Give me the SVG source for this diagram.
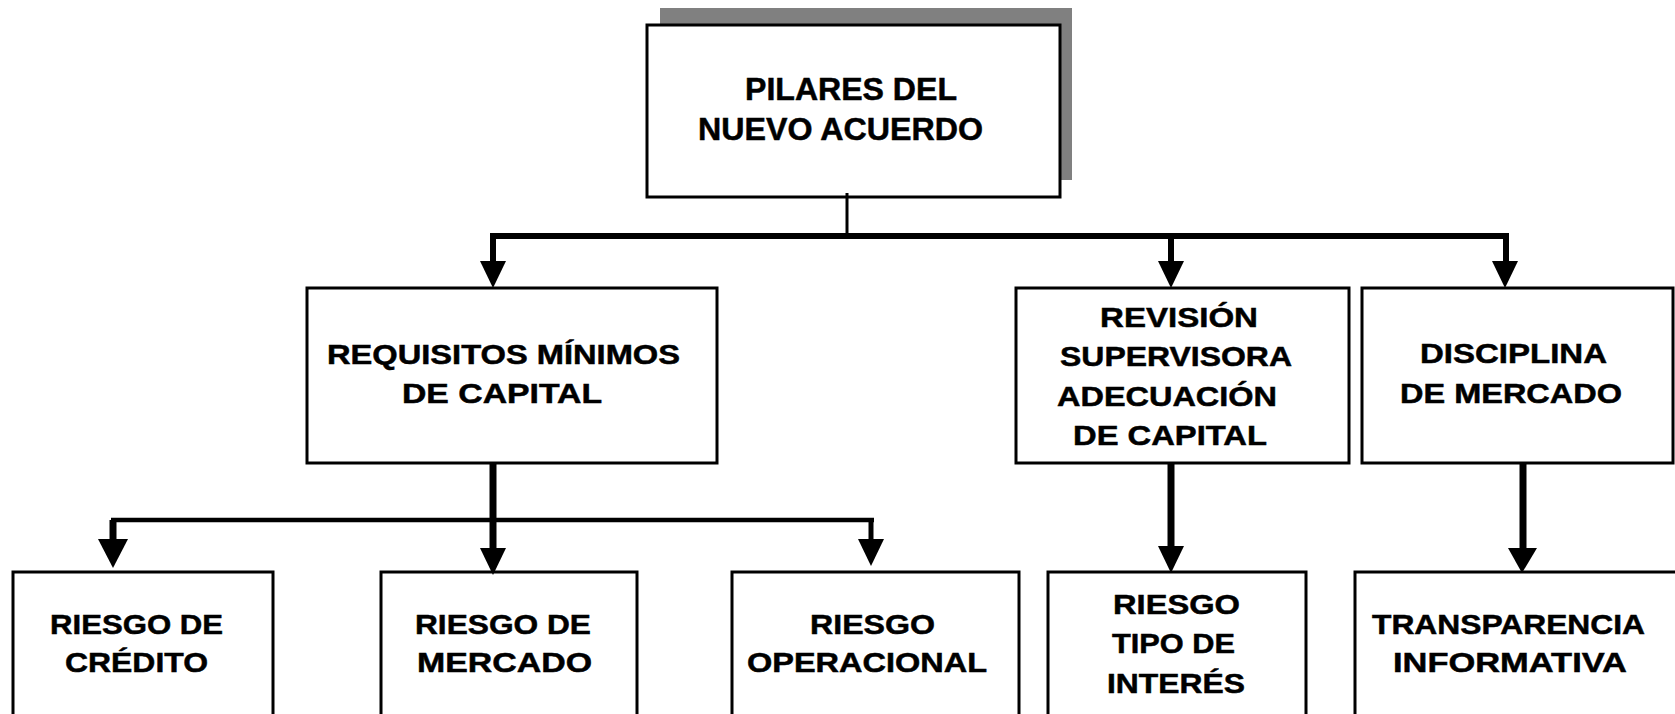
<svg xmlns="http://www.w3.org/2000/svg" xmlns:xlink="http://www.w3.org/1999/xlink" width="1675" height="714" viewBox="0 0 1675 714">
<style>
.box{fill:#fff;stroke:#000;stroke-width:3}
.t{font-family:"Liberation Sans",Arial,sans-serif;font-weight:bold;font-size:28px;fill:#000;stroke:#000;stroke-width:0.5}
.tt{font-size:31px}
.c{stroke:#000;fill:none;stroke-linecap:butt}
</style>
<defs>
<path id="ah" d="M-13,-27 L13,-27 L0,0 Z" fill="#000"/>
</defs>
<rect width="1675" height="714" fill="#fff"/>
<g id="node-pilares">
<rect x="660" y="8" width="412" height="172" fill="#808080"/>
<rect class="box" x="647" y="25" width="413" height="172"/>
<text class="t tt" x="745" y="100" textLength="212" lengthAdjust="spacingAndGlyphs">PILARES DEL</text>
<text class="t tt" x="698" y="140" textLength="285" lengthAdjust="spacingAndGlyphs">NUEVO ACUERDO</text>
</g>
<g id="node-requisitos">
<rect class="box" x="307" y="288" width="410" height="175"/>
<text class="t" x="327" y="364" textLength="353" lengthAdjust="spacingAndGlyphs">REQUISITOS MÍNIMOS</text>
<text class="t" x="402" y="403" textLength="200" lengthAdjust="spacingAndGlyphs">DE CAPITAL</text>
</g>
<g id="node-revision">
<rect class="box" x="1016" y="288" width="333" height="175"/>
<text class="t" x="1100" y="327" textLength="158" lengthAdjust="spacingAndGlyphs">REVISIÓN</text>
<text class="t" x="1060" y="366" textLength="232" lengthAdjust="spacingAndGlyphs">SUPERVISORA</text>
<text class="t" x="1057" y="406" textLength="220" lengthAdjust="spacingAndGlyphs">ADECUACIÓN</text>
<text class="t" x="1073" y="445" textLength="194" lengthAdjust="spacingAndGlyphs">DE CAPITAL</text>
</g>
<g id="node-disciplina">
<rect class="box" x="1362" y="288" width="311" height="175"/>
<text class="t" x="1420" y="363" textLength="187" lengthAdjust="spacingAndGlyphs">DISCIPLINA</text>
<text class="t" x="1400" y="403" textLength="222" lengthAdjust="spacingAndGlyphs">DE MERCADO</text>
</g>
<g id="node-credito">
<rect class="box" x="13" y="572" width="260" height="160"/>
<text class="t" x="50" y="634" textLength="173" lengthAdjust="spacingAndGlyphs">RIESGO DE</text>
<text class="t" x="65" y="672" textLength="143" lengthAdjust="spacingAndGlyphs">CRÉDITO</text>
</g>
<g id="node-mercado">
<rect class="box" x="381" y="572" width="256" height="160"/>
<text class="t" x="415" y="634" textLength="176" lengthAdjust="spacingAndGlyphs">RIESGO DE</text>
<text class="t" x="417" y="672" textLength="175" lengthAdjust="spacingAndGlyphs">MERCADO</text>
</g>
<g id="node-operacional">
<rect class="box" x="732" y="572" width="287" height="160"/>
<text class="t" x="810" y="634" textLength="125" lengthAdjust="spacingAndGlyphs">RIESGO</text>
<text class="t" x="747" y="672" textLength="240" lengthAdjust="spacingAndGlyphs">OPERACIONAL</text>
</g>
<g id="node-interes">
<rect class="box" x="1048" y="572" width="258" height="160"/>
<text class="t" x="1113" y="614" textLength="127" lengthAdjust="spacingAndGlyphs">RIESGO</text>
<text class="t" x="1112" y="653" textLength="123" lengthAdjust="spacingAndGlyphs">TIPO DE</text>
<text class="t" x="1107" y="693" textLength="138" lengthAdjust="spacingAndGlyphs">INTERÉS</text>
</g>
<g id="node-transparencia">
<rect class="box" x="1355" y="572" width="340" height="160"/>
<text class="t" x="1372" y="634" textLength="273" lengthAdjust="spacingAndGlyphs">TRANSPARENCIA</text>
<text class="t" x="1393" y="672" textLength="234" lengthAdjust="spacingAndGlyphs">INFORMATIVA</text>
</g>
<g id="connectors">
<line class="c" x1="847" y1="193" x2="847" y2="236" stroke-width="3"/>
<polyline class="c" points="493,263 493,236 1506,236 1506,263" stroke-width="6"/>
<line class="c" x1="1171" y1="236" x2="1171" y2="263" stroke-width="6"/>
<use xlink:href="#ah" x="493" y="288"/>
<use xlink:href="#ah" x="1171" y="288"/>
<use xlink:href="#ah" x="1505" y="288"/>
<line class="c" x1="493" y1="463" x2="493" y2="550" stroke-width="7"/>
<use xlink:href="#ah" x="493" y="575"/>
<line class="c" x1="111" y1="520" x2="874" y2="520" stroke-width="4.5"/>
<line class="c" x1="113" y1="520" x2="113" y2="541" stroke-width="7"/>
<path d="M98,539 L128,539 L113,568 Z" fill="#000"/>
<line class="c" x1="871" y1="520" x2="871" y2="541" stroke-width="5"/>
<use xlink:href="#ah" x="871" y="566"/>
<line class="c" x1="1171" y1="463" x2="1171" y2="550" stroke-width="7"/>
<use xlink:href="#ah" x="1171" y="573"/>
<line class="c" x1="1523" y1="463" x2="1523" y2="550" stroke-width="7"/>
<path d="M1508,548 L1537,548 L1522,573 Z" fill="#000"/>
</g>
</svg>
